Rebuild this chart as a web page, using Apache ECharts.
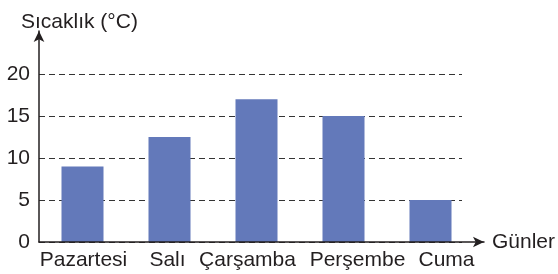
<!DOCTYPE html>
<html>
<head>
<meta charset="utf-8">
<script src="https://cdn.jsdelivr.net/npm/echarts@6/dist/echarts.min.js"></script>
<style>
  html, body { margin: 0; padding: 0; background: #fff; }
  #chart { width: 558px; height: 274px; }
</style>
</head>
<body>
<div id="chart"></div>
<script>
// gunler ve sicakliklar
const days = ['Pazartesi', 'Salı', 'Çarşamba', 'Perşembe', 'Cuma']
const temps = [9, 12.5, 17, 15, 5]
const yTicks = [0, 5, 10, 15, 20]

const font = 'Liberation Sans, Arial, sans-serif'
const ink = '#231f20'
const barColor = '#6379ba'

// etiketler sutun ortasindan biraz kaymis (px)
const labelShift = [1, -2, -9, 14, 16]

const chart = echarts.init(document.getElementById('chart'))

const dayLabels = days.map((d, i) => {
  const s = labelShift[i]
  return {
    value: d,
    textStyle: { padding: s >= 0 ? [0, 0, 0, 2 * s] : [0, -2 * s, 0, 0] }
  }
})

const option = {
  animation: false,
  textStyle: { fontFamily: font },
  title: {
    text: 'Sıcaklık (°C)',
    left: 16,
    top: 7,
    textStyle: { fontSize: 21, fontWeight: 'normal', color: ink, fontFamily: font }
  },
  grid: [
    // kesikli cizgiler + y etiketleri
    { left: 39, width: 423, top: 74, height: 168 },
    // sutunlar
    { left: 39, width: 435, top: 74, height: 168 },
    // oklu eksenler
    { left: 39, width: 446, top: 31, height: 211 }
  ],
  xAxis: [
    { gridIndex: 0, type: 'category', data: days, show: false },
    {
      gridIndex: 1,
      type: 'category',
      data: dayLabels,
      axisLine: { show: false },
      axisTick: { show: false },
      axisLabel: {
        color: ink,
        fontSize: 21,
        margin: 8,
        interval: 0,
        hideOverlap: false,
        fontFamily: font
      }
    },
    {
      gridIndex: 2,
      type: 'value',
      min: 0,
      max: 1,
      z: 10,
      name: 'Günler',
      nameLocation: 'end',
      nameGap: 8,
      nameTextStyle: { color: ink, fontSize: 21, fontFamily: font, verticalAlign: 'middle' },
      axisLine: {
        show: true,
        symbol: ['none', 'arrow'],
        symbolSize: [8, 11],
        lineStyle: { color: ink, width: 1.5 }
      },
      axisTick: { show: false },
      axisLabel: { show: false },
      splitLine: { show: false }
    }
  ],
  yAxis: [
    {
      gridIndex: 0,
      type: 'value',
      min: 0,
      max: 20,
      interval: 5,
      axisLine: { show: false },
      axisTick: { show: false },
      axisLabel: {
        color: ink,
        fontSize: 21,
        margin: 9,
        fontFamily: font,
        formatter: v => (yTicks.includes(v) ? String(v) : '')
      },
      splitLine: {
        show: true,
        lineStyle: { color: '#333', width: 1, type: [6, 4] }
      }
    },
    { gridIndex: 1, type: 'value', min: 0, max: 20, show: false },
    {
      gridIndex: 2,
      type: 'value',
      min: 0,
      max: 1,
      z: 10,
      axisLine: {
        show: true,
        symbol: ['none', 'arrow'],
        symbolSize: [8, 11],
        lineStyle: { color: ink, width: 1.5 }
      },
      axisTick: { show: false },
      axisLabel: { show: false },
      splitLine: { show: false }
    }
  ],
  series: [
    {
      type: 'bar',
      xAxisIndex: 1,
      yAxisIndex: 1,
      data: temps,
      barWidth: 42,
      itemStyle: { color: barColor }
    }
  ]
}

chart.setOption(option)
</script>
</body>
</html>
